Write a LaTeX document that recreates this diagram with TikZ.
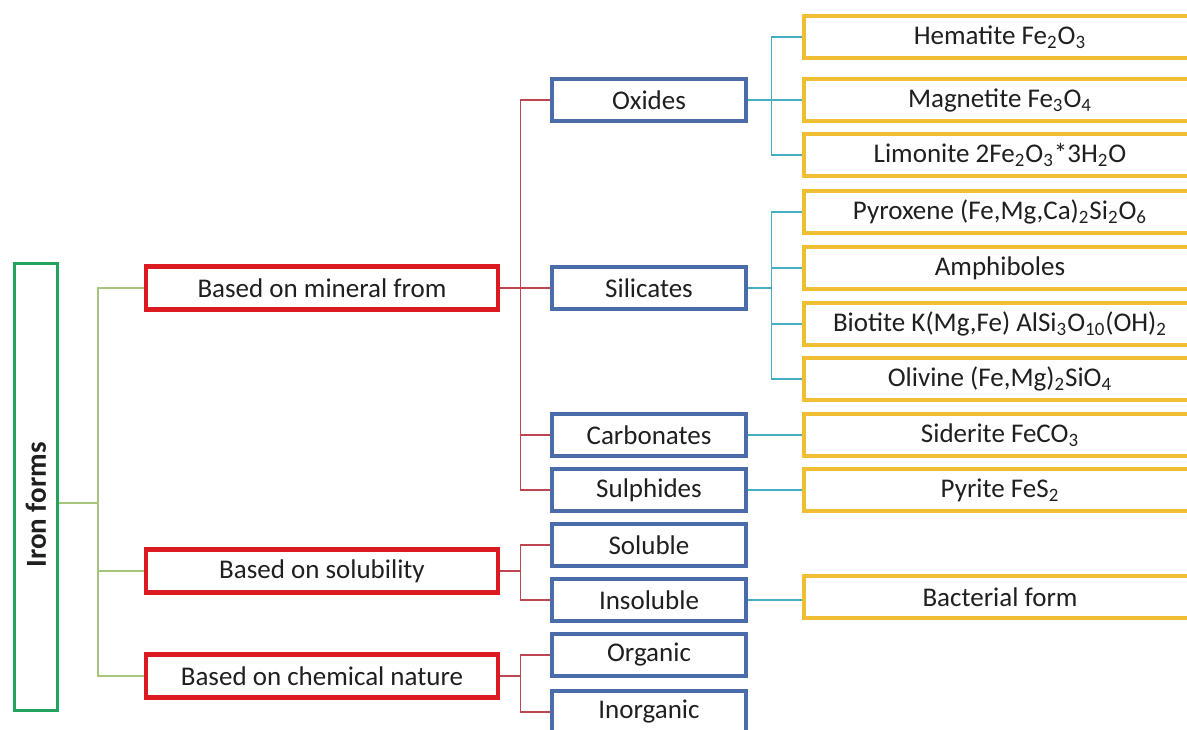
\documentclass[tikz,border=0pt]{standalone}
\usepackage{fontspec}
\setmainfont{Carlito}
\usepackage{tikz}
\definecolor{rootgreen}{HTML}{22A35E}
\definecolor{rootline}{HTML}{A6C47C}
\definecolor{catred}{HTML}{DC1A22}
\definecolor{catline}{HTML}{BC4650}
\definecolor{subblue}{HTML}{4A6DAA}
\definecolor{subline}{HTML}{45AFC2}
\definecolor{oreyellow}{HTML}{F0BE32}
\tikzset{
    box/.style={draw, rectangle, minimum height=21pt, inner sep=1pt, text=black!88,
        font=\fontsize{13.5}{16}\selectfont},
    rootbox/.style={box, draw=rootgreen, line width=1.9pt, rotate=90,
        minimum width=223.5pt, minimum height=21.5pt,
        font=\fontsize{14.5}{17}\selectfont\bfseries},
    catbox/.style={box, draw=catred, line width=2.25pt, minimum width=176pt, minimum height=21.5pt},
    subbox/.style={box, draw=subblue, line width=2.1pt, minimum width=97pt},
    orebox/.style={box, draw=oreyellow, line width=2.1pt, minimum width=196pt},
    greenwire/.style={draw=rootline, line width=0.6pt},
    redwire/.style={draw=catline, line width=0.6pt},
    cyanwire/.style={draw=subline, line width=0.6pt}
}

\begin{document}
\begin{tikzpicture}[x=0.5pt, y=-0.5pt]
    \useasboundingbox (0,0) rectangle (1187,729);

    \node[rootbox] (iron) at (36,487) {Iron forms\hspace*{18pt}};

    \node[catbox] (mineral) at (322,288) {Based on mineral from};
    \node[catbox] (solub) at (322,571) {Based on solubility};
    \node[catbox] (chem) at (322,676) {Based on chemical nature};

    \node[subbox] (oxides) at (649,100) {Oxides};
    \node[subbox] (silicates) at (649,288) {Silicates};
    \node[subbox] (carbonates) at (649,435) {Carbonates};
    \node[subbox] (sulphides) at (649,490) {Sulphides};
    \node[subbox] (soluble) at (649,545) {Soluble};
    \node[subbox] (insoluble) at (649,600) {Insoluble};
    \node[subbox] (organic) at (649,655) {Organic};
    \node[subbox] (inorganic) at (649,712) {Inorganic};

    \node[orebox] (hematite) at (1000,37) {Hematite Fe\textsubscript{2}O\textsubscript{3}};
    \node[orebox] (magnetite) at (1000,100) {Magnetite Fe\textsubscript{3}O\textsubscript{4}};
    \node[orebox] (limonite) at (1000,155) {Limonite 2Fe\textsubscript{2}O\textsubscript{3}*3H\textsubscript{2}O};
    \node[orebox] (pyroxene) at (1000,212) {Pyroxene (Fe,Mg,Ca)\textsubscript{2}Si\textsubscript{2}O\textsubscript{6}};
    \node[orebox] (amphiboles) at (1000,268) {Amphiboles};
    \node[orebox] (biotite) at (1000,324) {Biotite K(Mg,Fe) AlSi\textsubscript{3}O\textsubscript{10}(OH)\textsubscript{2}};
    \node[orebox] (olivine) at (1000,379) {Olivine (Fe,Mg)\textsubscript{2}SiO\textsubscript{4}};
    \node[orebox] (siderite) at (1000,435) {Siderite FeCO\textsubscript{3}};
    \node[orebox] (pyrite) at (1000,490) {Pyrite FeS\textsubscript{2}};
    \node[orebox] (bacterial) at (1000,597) {Bacterial form};

    % root to categories
    \coordinate (gfork) at (98,503);
    \draw[greenwire] (gfork -| iron.south) -- (gfork);
    \foreach \c in {mineral,solub,chem}
        \draw[greenwire] (gfork) |- (\c.west);

    % categories to groups
    \foreach \c in {oxides,silicates,carbonates,sulphides}
        \draw[redwire] (mineral.east) -- ++(20,0) |- (\c.west);
    \foreach \c in {soluble,insoluble}
        \draw[redwire] (solub.east) -- ++(20,0) |- (\c.west);
    \foreach \c in {organic,inorganic}
        \draw[redwire] (chem.east) -- ++(20,0) |- (\c.west);

    % groups to minerals
    \foreach \c in {hematite,magnetite,limonite}
        \draw[cyanwire] (oxides.east) -- ++(23,0) |- (\c.west);
    \foreach \c in {pyroxene,amphiboles,biotite,olivine}
        \draw[cyanwire] (silicates.east) -- ++(23,0) |- (\c.west);
    \draw[cyanwire] (carbonates.east) -- (siderite.west);
    \draw[cyanwire] (sulphides.east) -- (pyrite.west);
    \draw[cyanwire] (insoluble.east) -- (bacterial.west |- insoluble.east);
\end{tikzpicture}
\end{document}
